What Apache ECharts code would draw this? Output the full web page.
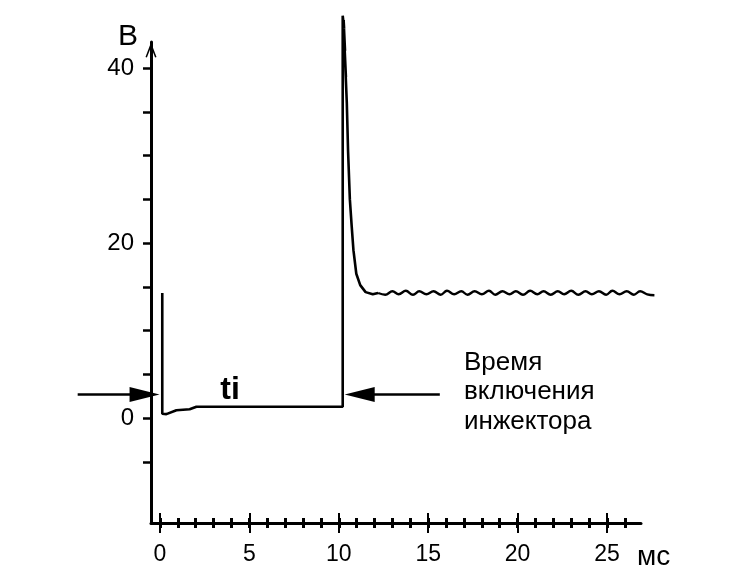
<!DOCTYPE html>
<html>
<head>
<meta charset="utf-8">
<script src="https://cdn.jsdelivr.net/npm/echarts@6/dist/echarts.min.js"></script>
<style>
  html, body { margin: 0; padding: 0; background: #fff; }
  #chart { width: 750px; height: 575px; }
</style>
</head>
<body>
<div id="chart"></div>
<script>
// напряжение на форсунке, В ; время, мс
var pulseT = [0.13, 0.13, 0.36, 0.92, 1.66, 2.04, 10.22, 10.22, 10.30, 10.27, 10.35, 10.31, 10.40, 10.36, 10.45, 10.52, 10.62, 10.72, 10.82, 10.98, 11.2, 11.5, 11.9, 12.2];
var pulseV = [14.3, 0.5, 0.45, 0.9, 1.0, 1.3, 1.3, 46, 44.5, 45.5, 42, 43, 39, 40.5, 36, 30.5, 25, 22, 19.2, 16.5, 15.2, 14.4, 14.15, 14.3];

// пульсации после закрытия
var waveT = [12.2, 12.6, 13.0, 13.35, 13.75, 14.15, 14.5, 14.9, 15.3, 15.7, 16.05, 16.45, 16.85, 17.2, 17.6, 18.0, 18.4, 18.75, 19.15, 19.55,
    19.9, 20.3, 20.7, 21.1, 21.45, 21.85, 22.25, 22.6, 23.0, 23.4, 23.8, 24.15, 24.55, 24.95, 25.3, 25.7, 26.1, 26.5, 26.85, 27.25, 27.65];
var waveV = [14.3, 14.1, 14.5, 14.15, 14.55, 14.1, 14.5, 14.15, 14.5, 14.1, 14.55, 14.15, 14.5, 14.1, 14.5, 14.15, 14.55, 14.1, 14.5, 14.15,
    14.5, 14.1, 14.55, 14.15, 14.5, 14.1, 14.5, 14.15, 14.55, 14.1, 14.5, 14.15, 14.5, 14.1, 14.55, 14.15, 14.5, 14.1, 14.5, 14.15, 14.05];

var xLabels = [0, 5, 10, 15, 20, 25];
var xMajorTicks = [0, 5, 10, 15, 20, 25];
var xMinorTicks = [0, 1, 2, 3, 4, 5, 6, 7, 8, 9, 10, 11, 12, 13, 14, 15, 16, 17, 18, 19, 20, 21, 22, 23, 24, 25, 26];
var yLabels = [0, 20, 40];
var yTicks = [-5, 0, 5, 10, 15, 20, 25, 30, 35, 40];

// стрелки "время включения"
var arrowV = 2.7;
var leftArrowT = [-4.6, -1.2];
var rightArrowT = [15.65, 11.5];
var leftHeadT = -0.86;
var rightHeadT = 11.17;

var FONT = 'Liberation Sans';
var X_MIN = -0.5, X_MAX = 26.9, Y_MIN = -12, Y_MAX = 43;
// вторая (невидимая) сетка шире, чтобы стрелки и хвост сигнала не обрезались
var X2_MIN = -5, X2_MAX = 28;
var GRID_L = 151, GRID_R = 109, GRID_T = 42, GRID_B = 52;
var pxPerMs = (750 - GRID_L - GRID_R) / (X_MAX - X_MIN);
var grid2L = GRID_L + (X2_MIN - X_MIN) * pxPerMs;
var grid2R = GRID_R - (X2_MAX - X_MAX) * pxPerMs;

function pairs(xs, ys) {
    var out = [];
    for (var i = 0; i < xs.length; i++) {
        out.push([xs[i], Array.isArray(ys) ? ys[i] : ys]);
    }
    return out;
}

function tickAxis(values, inside, len, width) {
    return {
        type: 'value', gridIndex: 0, min: X_MIN, max: X_MAX, position: 'bottom',
        axisLine: {show: false, onZero: false},
        axisTick: {show: true, inside: inside, length: len, customValues: values,
            lineStyle: {color: '#000', width: width}},
        axisLabel: {show: false},
        splitLine: {show: false}
    };
}

var chart = echarts.init(document.getElementById('chart'));
var option = {
    backgroundColor: '#fff',
    animation: false,
    grid: [
        {left: GRID_L, right: GRID_R, top: GRID_T, bottom: GRID_B, outerBoundsMode: 'none', containLabel: false},
        {left: grid2L, right: grid2R, top: GRID_T, bottom: GRID_B, outerBoundsMode: 'none', containLabel: false}
    ],
    xAxis: [
        {
            type: 'value', gridIndex: 0, min: X_MIN, max: X_MAX, position: 'bottom',
            name: 'мс', nameLocation: 'end', nameGap: -4,
            nameTextStyle: {color: '#000', fontFamily: FONT, fontSize: 28, align: 'left',
                verticalAlign: 'top', lineHeight: 68},
            axisLine: {onZero: false, lineStyle: {color: '#000', width: 3}},
            axisTick: {show: true, length: 5, customValues: xMinorTicks, lineStyle: {color: '#000', width: 3}},
            axisLabel: {customValues: xLabels, color: '#000', fontFamily: FONT, fontSize: 23, margin: 20},
            splitLine: {show: false}
        },
        tickAxis(xMinorTicks, true, 5, 3),
        tickAxis(xMajorTicks, false, 10, 2),
        tickAxis(xMajorTicks, true, 10, 2),
        {
            type: 'value', gridIndex: 1, min: X2_MIN, max: X2_MAX, show: false
        }
    ],
    yAxis: [
        {
            type: 'value', gridIndex: 0, min: Y_MIN, max: Y_MAX,
            name: 'В', nameLocation: 'end', nameGap: 5,
            nameTextStyle: {color: '#000', fontFamily: FONT, fontSize: 30, align: 'right',
                verticalAlign: 'middle', padding: [0, 13, 0, 0]},
            axisLine: {onZero: false, lineStyle: {color: '#000', width: 3},
                symbol: ['none', 'path://M5.5,0 L11,14.5 L9.6,15.2 L5.5,4.5 L1.4,15.2 L0,14.5 Z'],
                symbolSize: [11, 16], symbolOffset: [0, -8]},
            axisTick: {show: true, length: 8, customValues: yTicks, lineStyle: {color: '#000', width: 2.5}},
            axisLabel: {customValues: yLabels, color: '#000', fontFamily: FONT, fontSize: 24, margin: 17},
            splitLine: {show: false}
        },
        {
            type: 'value', gridIndex: 1, min: Y_MIN, max: Y_MAX, show: false
        }
    ],
    series: [
        {
            type: 'line', xAxisIndex: 4, yAxisIndex: 1, clip: false, symbol: 'none',
            data: pairs(pulseT, pulseV),
            lineStyle: {color: '#000', width: 2.6}
        },
        {
            type: 'line', xAxisIndex: 4, yAxisIndex: 1, clip: false, symbol: 'none', smooth: 0.4,
            data: pairs(waveT, waveV),
            lineStyle: {color: '#000', width: 2.4}
        },
        {
            type: 'line', xAxisIndex: 4, yAxisIndex: 1, clip: false, symbol: 'none',
            data: pairs(leftArrowT, arrowV),
            lineStyle: {color: '#000', width: 2.6}
        },
        {
            type: 'line', xAxisIndex: 4, yAxisIndex: 1, clip: false, symbol: 'none',
            data: pairs(rightArrowT, arrowV),
            lineStyle: {color: '#000', width: 2.6}
        },
        {
            type: 'scatter', xAxisIndex: 4, yAxisIndex: 1, clip: false, symbol: 'triangle', symbolSize: [15, 30],
            data: [
                {value: [leftHeadT, arrowV], symbolRotate: -90},
                {value: [rightHeadT, arrowV], symbolRotate: 90}
            ],
            itemStyle: {color: '#000', opacity: 1}
        }
    ],
    graphic: [
        {
            type: 'text', x: 230, y: 390,
            style: {text: 'ti', fill: '#000', fontFamily: FONT, fontSize: 32, fontWeight: 'bold',
                align: 'center', verticalAlign: 'middle'}
        },
        {
            type: 'text', x: 464, y: 348,
            style: {text: 'Время\nвключения\nинжектора', fill: '#000', fontFamily: FONT, fontSize: 26,
                lineHeight: 29.5, align: 'left', verticalAlign: 'top'}
        }
    ]
};
chart.setOption(option);
</script>
</body>
</html>
